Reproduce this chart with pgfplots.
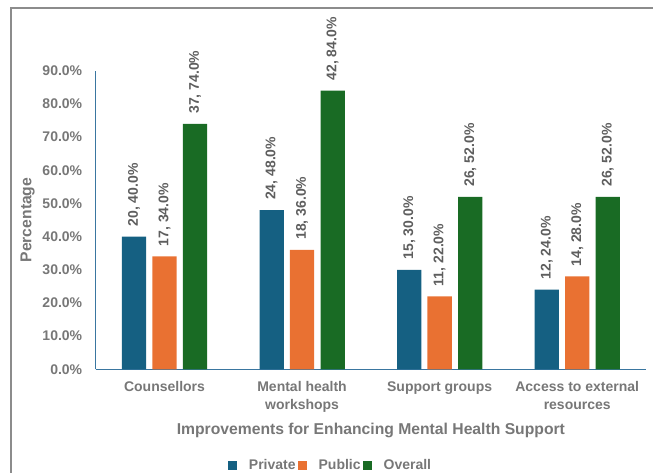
\documentclass[border=0pt]{standalone}
\usepackage{pgfplots}
\pgfplotsset{compat=1.18}
\usepackage{fontspec}
\setmainfont{Liberation Sans}
\definecolor{cPriv}{HTML}{156082}
\definecolor{cPub}{HTML}{E97132}
\definecolor{cAll}{HTML}{196B24}
\definecolor{txt}{HTML}{777777}
\definecolor{lab}{HTML}{5E5E5E}
\definecolor{axc}{HTML}{3A76A0}
\definecolor{frm}{HTML}{8C8C8C}
\newcommand{\fs}{\fontsize{14}{17.6}\selectfont\bfseries}
\newcommand{\fl}{\fontsize{15.7}{18}\selectfont\bfseries}
\begin{document}
\begin{tikzpicture}[x=1pt,y=1pt]
\useasboundingbox (0,0) rectangle (653,473);
\draw[frm, line width=2pt] (11,-10) -- (11,465) -- (670,465);
\begin{axis}[
  at={(95.7pt,103.7pt)}, anchor=south west,
  scale only axis, width=550.3pt, height=298.6pt,
  ymin=0, ymax=90, xmin=-0.5, xmax=3.5,
  enlargelimits=false, clip=false,
  ybar, bar width=24.3pt,
  axis x line=bottom, axis y line=left,
  axis line style={-, draw=axc, line width=1pt},
  major tick length=0pt,
  ytick={0,10,...,90}, xtick={0,1,2,3},
  xticklabels={Counsellors,{Mental health\\workshops},Support groups,{Access to external\\resources}},
  xticklabel style={align=center, font=\fs, text=txt, yshift=-9pt},
  yticklabel style={font=\fs, text=txt, xshift=-10pt},
  /pgf/number format/assume math mode=true,
  yticklabel={\pgfmathprintnumber[fixed,fixed zerofill,precision=1]{\tick}\%},
  xlabel={Improvements for Enhancing Mental Health Support},
  xlabel style={at={(axis description cs:0.5,-0.2200)}, anchor=base, font=\fl, text=txt},
  ylabel={Percentage},
  ylabel style={at={(axis description cs:-0.1239,0.5)}, anchor=center, font=\fl, text=txt},
  nodes near coords, point meta=explicit symbolic,
  every node near coord/.append style={rotate=90, anchor=west, font=\fs, text=lab, inner xsep=10pt},
  legend columns=3,
  legend style={at={(axis description cs:0.4267,-0.3225)}, anchor=center, draw=none, fill=none, font=\fs, text=txt,
    /tikz/every odd column/.append style={column sep=10pt}},
  legend image code/.code={\fill[#1,draw=none] (0pt,-4.5pt) rectangle (9pt,4.5pt);},
]
\addplot[fill=cPriv, draw=none, bar shift=-30.4pt] coordinates {
  (0,40) [20, 40.0\%]
  (1,48) [24, 48.0\%]
  (2,30) [15, 30.0\%]
  (3,24) [12, 24.0\%]
};
\addplot[fill=cPub, draw=none, bar shift=0pt] coordinates {
  (0,34) [17, 34.0\%]
  (1,36) [18, 36.0\%]
  (2,22) [11, 22.0\%]
  (3,28) [14, 28.0\%]
};
\addplot[fill=cAll, draw=none, bar shift=30.6pt] coordinates {
  (0,74) [37, 74.0\%]
  (1,84) [42, 84.0\%]
  (2,52) [26, 52.0\%]
  (3,52) [26, 52.0\%]
};
\legend{Private,Public,Overall}
\end{axis}
\end{tikzpicture}
\end{document}
